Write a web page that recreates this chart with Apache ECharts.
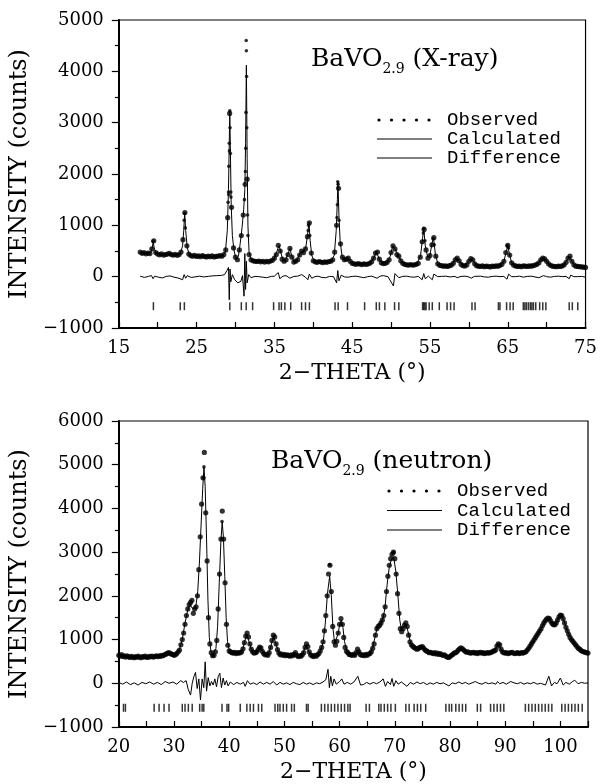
<!DOCTYPE html>
<html>
<head>
<meta charset="utf-8">
<title>BaVO2.9 Rietveld profiles</title>
<script src="https://cdn.jsdelivr.net/npm/echarts@6/dist/echarts.min.js"></script>
<style>
  html, body { margin: 0; padding: 0; background: #fff; }
  #chart { width: 600px; height: 784px; }
</style>
</head>
<body>
<div id="chart"></div>
<script>
// ---------- X-ray pattern (upper panel) ----------
// observed counts on a regular 2-theta grid
const xrayStart = 17.75;
const xrayStep = 0.25;
const xrayObs = [
  480,
  455, 470, 445, 460,   // 18
  450, 540, 700, 470,   // 19
  440, 425, 445, 420,   // 20
  430, 440, 455, 430,   // 21
  420, 435, 415, 430,   // 22
  480, 720, 1250, 600,  // 23
  440, 410, 400, 415,   // 24
  395, 405, 390, 410,   // 25
  395, 385, 400, 390,   // 26
  405, 385, 395, 400,   // 27
  410, 400, 430, 520,   // 28
  1150, 3180, 1350, 560,// 29
  380, 330, 520, 800,   // 30
  1200, 1800, 1900, 430,// 31
  330, 310, 300, 295,   // 32
  305, 290, 300, 285,   // 33
  300, 290, 305, 320,   // 34
  360, 430, 610, 500,   // 35
  340, 300, 330, 430,   // 36
  550, 380, 285, 300,   // 37
  330, 420, 500, 470,   // 38
  540, 780, 1050, 460,  // 39
  310, 290, 280, 295,   // 40
  285, 275, 290, 280,   // 41
  295, 300, 330, 480,   // 42
  1000, 1720, 640, 380, // 43
  330, 340, 360, 300,   // 44
  260, 250, 240, 255,   // 45
  245, 235, 250, 240,   // 46
  245, 260, 290, 360,   // 47
  460, 480, 340, 270,   // 48
  255, 260, 280, 330,   // 49
  470, 600, 540, 430,   // 50
  400, 310, 260, 240,   // 51
  230, 225, 235, 225,   // 52
  230, 240, 260, 380,   // 53
  680, 920, 520, 360,   // 54
  410, 620, 760, 400,   // 55
  250, 220, 215, 205,   // 56
  210, 200, 215, 225,   // 57
  260, 330, 360, 310,   // 58
  240, 215, 210, 230,   // 59
  300, 350, 330, 250,   // 60
  215, 205, 200, 210,   // 61
  195, 205, 200, 190,   // 62
  205, 200, 210, 205,   // 63
  220, 240, 300, 470,   // 64
  610, 420, 270, 225,   // 65
  210, 200, 205, 195,   // 66
  210, 205, 200, 210,   // 67
  205, 215, 225, 240,   // 68
  270, 330, 360, 345,   // 69
  300, 250, 220, 205,   // 70
  200, 195, 205, 200,   // 71
  210, 230, 280, 360,   // 72
  400, 300, 230, 205,   // 73
  200, 195, 190, 185,   // 74
  180                   // 75
];
// extra observed points recorded across the sharp reflections
const xrayObsPeaks = [
  [19.40, 690],
  [23.40, 1100], [23.45, 1230], [23.55, 950],
  [29.05, 1450], [29.10, 1650], [29.13, 1600], [29.15, 2150], [29.20, 2600], [29.22, 2450],
  [29.27, 3230], [29.30, 2900], [29.35, 2400], [29.40, 1650], [29.42, 1550],
  [31.15, 1500], [31.28, 2050], [31.32, 2500], [31.35, 3200], [31.38, 4600],
  [31.40, 4400], [31.43, 3900], [31.45, 2900], [31.55, 1200], [31.60, 800],
  [39.35, 900], [39.40, 1000], [39.55, 800],
  [43.05, 1150], [43.10, 1400], [43.15, 1850], [43.20, 1800], [43.30, 1100],
  [54.15, 850], [54.20, 940], [54.35, 700],
  [55.40, 740], [55.55, 620],
  [64.95, 600], [65.10, 560]
];
// calculated profile
const xrayCalc = [
  [17.75,460],[18.5,455],[19.1,460],[19.3,560],[19.42,690],[19.55,560],[19.8,445],[20.5,435],
  [22,430],[22.9,440],[23.2,600],[23.35,900],[23.47,1240],[23.6,900],[23.8,560],[24.1,420],
  [25,400],[27,395],[28.3,405],[28.7,480],[28.95,900],[29.1,1700],[29.2,2600],[29.27,3230],
  [29.35,2400],[29.45,1400],[29.6,800],[29.8,520],[30.0,390],[30.2,340],[30.4,420],[30.6,640],
  [30.85,960],[31.05,1300],[31.2,1700],[31.3,2600],[31.4,4120],[31.5,2300],[31.6,1000],
  [31.75,470],[32.0,340],[33,300],[34.5,300],[35.0,360],[35.3,480],[35.6,610],[35.85,460],
  [36.1,320],[36.4,320],[36.8,460],[37.0,550],[37.2,420],[37.5,295],[37.9,320],[38.4,490],
  [38.7,470],[39.05,580],[39.25,800],[39.45,1060],[39.6,700],[39.8,420],[40.1,300],[42.3,300],
  [42.7,420],[42.95,900],[43.1,1500],[43.17,1850],[43.3,1200],[43.45,700],[43.7,400],[44.0,330],
  [44.4,360],[44.8,290],[45.2,250],[47.2,255],[47.7,340],[48.1,480],[48.5,340],[48.9,260],
  [49.5,280],[49.9,400],[50.2,600],[50.5,540],[50.9,420],[51.3,300],[51.8,240],[53.3,240],
  [53.8,420],[54.05,750],[54.2,930],[54.4,600],[54.7,380],[55.0,420],[55.25,640],[55.45,770],
  [55.7,430],[56.0,260],[56.4,215],[57.7,220],[58.2,320],[58.5,360],[58.9,270],[59.4,210],
  [59.9,280],[60.3,350],[60.6,300],[61.0,215],[64.0,215],[64.5,300],[64.8,480],[65.0,615],
  [65.2,450],[65.5,270],[65.9,215],[68.5,225],[69.0,270],[69.5,360],[69.9,320],[70.4,230],
  [71.0,200],[72.2,225],[72.6,310],[72.95,400],[73.3,280],[73.7,205],[75,182]
];
// observed minus calculated
const xrayDiff = [
  [17.75,10],[18.3,-15],[18.8,5],[19.2,20],[19.4,-40],[19.6,10],[20.1,-10],[20.6,-25],[21.1,5],
  [21.6,15],[22.1,-10],[22.6,-25],[23.2,-60],[23.4,40],[23.6,-30],[23.8,20],[24.3,-15],
  [24.8,-5],[25.4,10],[25.9,-5],[26.5,5],[27.0,15],[27.6,20],[28.2,25],[28.6,40],[28.9,120],
  [29.1,180],[29.2,-450],[29.3,150],[29.4,-100],[29.6,40],[29.9,-60],[30.3,-120],[30.7,-90],
  [30.9,20],[31.1,-380],[31.2,450],[31.3,-250],[31.4,300],[31.5,-120],[31.7,40],[32.0,-20],
  [32.5,5],[33.0,0],[33.5,-10],[34.0,-20],[34.6,5],[35.0,10],[35.5,80],[35.7,-40],[36.1,10],
  [36.5,20],[37.0,-30],[37.5,5],[38.0,10],[38.5,40],[39.0,-10],[39.3,-60],[39.5,50],[39.8,-30],
  [40.2,0],[40.6,10],[41.1,-15],[41.6,-20],[42.1,5],[42.6,0],[43.0,-120],[43.15,120],[43.3,-80],
  [43.6,30],[44.0,-5],[44.5,-10],[45.0,5],[45.5,10],[46.0,-5],[46.5,-20],[47.0,0],[47.5,10],
  [48.2,-30],[48.6,10],[49.0,20],[49.6,0],[50.3,-180],[50.5,60],[51.0,-20],[51.5,5],[52.0,10],
  [52.5,-5],[53.0,-10],[53.5,5],[54.0,-60],[54.2,60],[54.4,-40],[54.8,10],[55.3,-60],[55.5,50],
  [56.0,0],[56.5,5],[57.0,10],[57.6,-5],[58.2,5],[58.5,-20],[59.0,5],[59.5,10],[60.0,-5],
  [60.3,-30],[60.7,5],[61.5,10],[62.0,-5],[62.5,-10],[63.0,5],[63.5,10],[64.0,0],[64.5,5],
  [64.9,-50],[65.1,50],[65.5,0],[66.0,0],[66.5,10],[67.0,-10],[67.5,5],[68.0,10],[68.5,-5],
  [69.0,-20],[69.6,20],[70.0,0],[70.5,-10],[71.0,5],[71.5,10],[72.0,0],[72.5,5],[72.9,-40],
  [73.1,30],[73.5,0],[74.0,0],[74.5,5],[75,-10]
];
// calculated reflection positions
const xrayRefl = [
  19.45, 22.9, 23.43, 29.27, 30.75, 31.38, 32.2,
  34.9, 35.6, 35.9, 36.35, 37.1, 38.5, 39.0, 39.5,
  42.8, 43.2, 44.4, 46.6, 48.1, 48.5, 49.2, 50.45, 51.0,
  54.05, 54.2, 54.35, 54.5, 54.9, 55.3, 56.2, 57.2, 57.65, 58.1,
  60.4, 60.8, 63.8, 64.0, 64.85, 65.3, 65.7,
  67.0, 67.2, 67.4, 67.65, 67.9, 68.1, 68.3, 68.6, 69.1, 69.5, 69.9,
  72.9, 73.3, 74.0
];

// ---------- neutron pattern (lower panel) ----------
const neutStart = 20;
const neutStep = 0.25;
const neutObs = [
  640, 620, 655, 610,     // 20
  630, 600, 625, 610,     // 21
  590, 615, 600, 585,     // 22
  610, 595, 620, 600,     // 23
  585, 610, 600, 620,     // 24
  600, 590, 615, 605,     // 25
  620, 600, 610, 625,     // 26
  610, 630, 615, 640,     // 27
  630, 650, 665, 680,     // 28
  700, 690, 670, 660,     // 29
  640, 655, 680, 720,     // 30
  760, 880, 1000, 1150,   // 31
  1350, 1550, 1700, 1800, // 32
  1850, 1900, 1600, 1700, // 33
  1750, 2000, 2600, 3350, // 34
  4100, 4700, 5280, 3900, // 35
  2800, 1500, 900, 700,   // 36
  630, 640, 720, 980,     // 37
  1700, 2500, 3300, 3940, // 38
  3300, 2300, 1350, 870,  // 39
  740, 720, 700, 690,     // 40
  710, 680, 700, 690,     // 41
  700, 720, 790, 930,     // 42
  1080, 1150, 1060, 900,  // 43
  780, 720, 690, 700,     // 44
  720, 770, 830, 810,     // 45
  730, 680, 650, 660,     // 46
  640, 700, 820, 980,     // 47
  1100, 1060, 900, 770,   // 48
  690, 650, 670, 640,     // 49
  660, 630, 650, 640,     // 50
  620, 650, 630, 660,     // 51
  700, 640, 610, 630,     // 52
  620, 650, 700, 820,     // 53
  900, 840, 720, 650,     // 54
  630, 610, 640, 620,     // 55
  650, 680, 740, 820,     // 56
  950, 1200, 1550, 2000,  // 57
  2500, 2700, 2100, 1300, // 58
  950, 870, 960, 1150,    // 59
  1350, 1480, 1350, 1050, // 60
  820, 730, 700, 660,     // 61
  650, 640, 660, 640,     // 62
  700, 780, 720, 660,     // 63
  640, 650, 630, 660,     // 64
  640, 670, 680, 720,     // 65
  800, 900, 1100, 1250,   // 66
  1300, 1330, 1380, 1450, // 67
  1550, 1750, 2100, 2450, // 68
  2700, 2850, 2950, 3000, // 69
  2850, 2500, 2050, 1600, // 70
  1250, 1180, 1250, 1330, // 71
  1380, 1300, 1100, 950,  // 72
  880, 850, 820, 800,     // 73
  780, 790, 820, 830,     // 74
  840, 800, 760, 740,     // 75
  720, 700, 710, 690,     // 76
  680, 700, 670, 690,     // 77
  660, 680, 650, 640,     // 78
  650, 620, 600, 590,     // 79
  610, 640, 660, 690,     // 80
  700, 720, 760, 790,     // 81
  810, 790, 760, 730,     // 82
  710, 720, 700, 690,     // 83
  700, 710, 690, 700,     // 84
  680, 700, 710, 690,     // 85
  700, 680, 690, 700,     // 86
  690, 700, 710, 730,     // 87
  740, 760, 850, 900,     // 88
  880, 780, 720, 700,     // 89
  690, 700, 680, 690,     // 90
  700, 710, 690, 680,     // 91
  690, 700, 680, 690,     // 92
  700, 690, 710, 720,     // 93
  760, 800, 850, 900,     // 94
  950, 1000, 1050, 1100,  // 95
  1150, 1200, 1250, 1320, // 96
  1380, 1430, 1470, 1490, // 97
  1480, 1420, 1370, 1340, // 98
  1340, 1380, 1450, 1520, // 99
  1560, 1550, 1480, 1380, // 100
  1280, 1200, 1120, 1050, // 101
  1000, 960, 920, 880,    // 102
  840, 800, 780, 750,     // 103
  730, 720, 710, 700,     // 104
  690                     // 105
];
const neutObsPeaks = [
  [35.43, 4950], [35.38, 4700], [58.2, 2714], [69.8, 3000], [38.7, 3700]
];
const neutCalc = [
  [20,620],[22,610],[24,605],[26,612],[27.5,630],[28.5,670],[29.3,680],[30.2,660],[30.7,720],
  [31.0,780],[31.5,1000],[32.0,1380],[32.5,1680],[32.9,1800],[33.3,1720],[33.7,1700],[34.0,1800],
  [34.3,2100],[34.6,2750],[34.9,3600],[35.2,4450],[35.43,4950],[35.65,4500],[35.9,3300],
  [36.15,1900],[36.4,1050],[36.7,720],[37.0,640],[37.3,660],[37.6,800],[37.9,1300],[38.2,2300],
  [38.5,3250],[38.73,3690],[38.95,3350],[39.2,2450],[39.45,1500],[39.7,950],[40.0,760],
  [40.5,710],[42.0,710],[42.5,790],[42.8,960],[43.2,1120],[43.6,950],[44.0,780],[44.5,710],
  [45.1,740],[45.6,820],[46.0,730],[46.6,660],[47.2,700],[47.6,870],[48.05,1080],[48.5,880],
  [49.0,700],[50.5,650],[52.5,640],[53.4,690],[53.9,880],[54.1,880],[54.6,680],[55.3,630],
  [56.0,660],[56.6,760],[57.0,920],[57.4,1350],[57.8,2050],[58.2,2450],[58.5,2000],[58.8,1250],
  [59.1,920],[59.3,900],[59.7,1120],[60.0,1330],[60.3,1450],[60.6,1280],[60.9,950],[61.3,740],
  [62,660],[63.0,680],[63.35,760],[63.8,670],[65.0,660],[65.5,700],[66.0,820],[66.4,1050],
  [66.8,1260],[67.3,1340],[67.8,1460],[68.2,1700],[68.6,2250],[69.0,2650],[69.4,2850],
  [69.8,2880],[70.2,2550],[70.6,1950],[70.9,1450],[71.2,1220],[71.6,1300],[72.0,1360],
  [72.4,1180],[72.8,950],[73.3,840],[74.0,790],[74.8,830],[75.3,800],[76,720],[78,670],
  [79.8,610],[80.5,670],[81.5,760],[82.0,800],[82.6,740],[84,700],[87.5,710],[88.2,780],
  [88.85,900],[89.3,760],[89.8,700],[93.5,710],[94.5,850],[95.5,1050],[96.5,1250],[97.3,1430],
  [97.95,1480],[98.5,1380],[99.05,1340],[99.6,1480],[100.1,1560],[100.6,1450],[101.2,1220],
  [102.0,1000],[103.0,840],[104,730],[105,690]
];
const neutDiff = [
  [20,20],[20.7,-20],[21.4,30],[22.1,-30],[22.8,10],[23.5,-40],[24.2,20],[24.9,-10],[25.6,30],
  [26.3,-20],[27,20],[27.7,-30],[28.4,40],[29.1,0],[29.8,30],[30.5,-20],[31.2,60],[31.7,20],
  [32.2,60],[32.6,-150],[33.0,-270],[33.3,0],[33.6,150],[33.9,250],[34.2,-120],[34.5,100],
  [34.8,-380],[35.1,100],[35.4,-100],[35.65,490],[35.9,-180],[36.2,130],[36.5,-60],[36.8,40],
  [37.1,-40],[37.4,100],[37.7,-80],[38.0,150],[38.3,230],[38.6,-100],[38.9,120],[39.2,-40],
  [39.5,60],[39.8,-60],[40.2,30],[40.8,-30],[41.4,20],[42.0,-20],[42.6,20],[42.9,-70],[43.3,60],
  [43.8,-20],[44.4,10],[45.0,-30],[45.6,30],[46.2,-20],[46.8,20],[47.4,-20],[48.0,40],[48.6,-40],
  [49.2,20],[49.8,-20],[50.4,10],[51.0,-30],[51.6,20],[52.2,-10],[52.8,-30],[53.4,20],[54.0,-20],
  [54.6,10],[55.2,-30],[55.8,10],[56.4,-10],[57.0,30],[57.5,80],[57.9,320],[58.15,-100],
  [58.4,160],[58.7,-60],[59.0,100],[59.4,-20],[60.0,40],[60.4,100],[60.8,-20],[61.4,20],
  [62.0,-20],[62.6,30],[63.3,160],[63.8,-40],[64.3,-30],[64.9,20],[65.5,-20],[66.1,20],
  [66.7,-10],[67.3,30],[67.9,100],[68.3,-70],[68.7,40],[69.2,-30],[69.5,110],[69.8,-70],
  [70.2,60],[70.6,-20],[71.2,30],[72.2,-70],[72.8,20],[73.4,-20],[74.0,30],[74.6,-10],[75.2,20],
  [75.8,-30],[76.4,10],[77.0,-20],[77.6,20],[78.2,-10],[78.8,10],[79.8,-60],[80.4,10],[81.0,-10],
  [81.6,30],[82.2,-10],[82.8,20],[83.4,-20],[84.0,10],[84.6,40],[85.2,0],[85.8,-20],[86.4,20],
  [87.0,-10],[87.6,10],[88.3,-20],[88.6,40],[89.0,-10],[89.6,20],[90.2,-20],[91.0,40],[91.6,10],
  [92.2,-10],[92.8,20],[93.4,-20],[94.0,10],[94.6,-10],[95.2,20],[95.8,-20],[96.4,0],[97.3,-40],
  [97.9,160],[98.4,-60],[98.9,20],[99.4,-10],[100.0,120],[100.5,-40],[101.0,20],[101.6,-20],
  [102.2,40],[102.6,70],[103.2,-10],[103.8,20],[104.4,0],[105,10]
];
const neutRefl = [
  20.85, 21.2, 26.4, 27.3, 28.2, 29.1, 31.5, 32.0, 32.6, 33.3, 34.65, 35.1, 35.4,
  38.7, 39.6, 39.9, 42.0, 43.2, 43.8, 44.4, 45.3, 45.9,
  48.3, 48.8, 49.2, 49.8, 50.4, 51.3, 51.8, 54.0, 54.3, 56.7, 57.3, 57.9, 58.5,
  59.1, 59.7, 60.3, 60.9, 61.5, 61.9, 64.8, 65.4,
  67.1, 67.5, 68.1, 68.7, 69.3, 70.1, 72.0, 72.6, 73.5, 74.1, 74.7, 75.6,
  79.25, 79.85, 80.3, 81.05, 81.65, 82.25, 82.85, 84.95, 85.55,
  87.35, 87.95, 88.55, 89.15, 89.75,
  93.65, 94.25, 94.85, 95.45, 96.05, 96.65, 97.25, 97.85, 98.45,
  100.25, 100.85, 101.45, 102.05, 102.65, 103.25, 103.95
];
const xrayReflLevel = -575;
const neutReflLevel = -560;

const legendLabels = ['Observed', 'Calculated', 'Difference'];
const panelTitles = [
  ['BaVO', '2.9', ' (X-ray)'],
  ['BaVO', '2.9', ' (neutron)']
];

// ---------- styling ----------
const SERIF = "'DejaVu Serif', 'Liberation Serif', serif";
const MONO = "'Liberation Mono', 'DejaVu Sans Mono', monospace";
const INK = '#000';

function gridded(start, step, values) {
  return values.map((v, i) => [+(start + i * step).toFixed(2), v]);
}

function xAxisFor(gridIndex, min, max, firstLabel) {
  return {
    type: 'value', gridIndex, min, max, interval: 5,
    axisLine: { onZero: false, lineStyle: { color: INK, width: 2 } },
    axisTick: { inside: true, length: 6, lineStyle: { color: INK, width: 1.2 } },
    axisLabel: {
      color: INK, fontFamily: SERIF, fontSize: 18, margin: 11,
      formatter: v => ((v - firstLabel) % 10 === 0 ? String(v) : '')
    },
    splitLine: { show: false },
    name: '2\u2212THETA (\u00B0)', nameLocation: 'middle', nameGap: 34,
    nameTextStyle: { color: INK, fontFamily: SERIF, fontSize: 22 }
  };
}

function yAxisFor(gridIndex, max) {
  return {
    type: 'value', gridIndex, min: -1000, max, interval: 1000,
    axisLine: { onZero: false, lineStyle: { color: INK, width: 2 } },
    axisTick: { inside: false, length: 7, lineStyle: { color: INK, width: 1.2 } },
    minorTick: { show: true, splitNumber: 2, length: 4, lineStyle: { color: INK, width: 1.2 } },
    axisLabel: {
      color: INK, fontFamily: SERIF, fontSize: 18, margin: 15,
      formatter: v => (v < 0 ? '\u2212' + Math.abs(v) : String(v))
    },
    splitLine: { show: false },
    name: 'INTENSITY (counts)', nameLocation: 'middle', nameGap: 65,
    nameTextStyle: { color: INK, fontFamily: SERIF, fontSize: 24 }
  };
}

function panelSeries(idx, obs, obsPeaks, calc, diff, refl, reflLevel) {
  const axes = { xAxisIndex: idx, yAxisIndex: idx };
  return [
    Object.assign({ type: 'line', name: 'Calculated', data: calc, showSymbol: false,
      lineStyle: { color: INK, width: 1 }, z: 2 }, axes),
    Object.assign({ type: 'scatter', name: 'Observed', data: obs, symbol: 'circle', symbolSize: 5.2,
      itemStyle: { color: INK }, z: 3 }, axes),
    Object.assign({ type: 'scatter', name: 'Observed', data: obsPeaks, symbol: 'circle', symbolSize: 3.6,
      itemStyle: { color: INK }, z: 3 }, axes),
    Object.assign({ type: 'line', name: 'Difference', data: diff, showSymbol: false,
      lineStyle: { color: INK, width: 1 }, z: 2 }, axes),
    Object.assign({ type: 'scatter', name: 'Reflections', data: refl.map(t => [t, reflLevel]),
      symbol: 'rect', symbolSize: [1.5, 8], itemStyle: { color: INK }, z: 2 }, axes)
  ];
}

function legendGraphics(dotX0, textX, y0, dy) {
  const els = [];
  for (let k = 0; k < 5; k++) {
    els.push({ type: 'circle', shape: { cx: dotX0 + 2 + k * 12.5, cy: y0, r: 1.6 },
      style: { fill: INK } });
  }
  els.push({ type: 'line', shape: { x1: dotX0, y1: y0 + dy, x2: dotX0 + 55, y2: y0 + dy },
    style: { stroke: INK, lineWidth: 1.2 } });
  els.push({ type: 'line', shape: { x1: dotX0, y1: y0 + 2 * dy, x2: dotX0 + 55, y2: y0 + 2 * dy },
    style: { stroke: INK, lineWidth: 1.2 } });
  legendLabels.forEach((t, k) => {
    els.push({ type: 'text', x: textX, y: y0 + k * dy,
      style: { text: t, fill: INK, font: '19px ' + MONO, textVerticalAlign: 'middle', textAlign: 'left' } });
  });
  return els;
}

function titleFor(parts, left, top) {
  return {
    text: '{n|' + parts[0] + '}{s|' + parts[1] + '}{n|' + parts[2] + '}',
    left, top,
    textStyle: {
      fontWeight: 'normal',
      rich: {
        n: { fontFamily: SERIF, fontSize: 25, fontWeight: 'normal', color: INK, lineHeight: 28, verticalAlign: 'top' },
        s: { fontFamily: SERIF, fontSize: 14, fontWeight: 'normal', color: INK, lineHeight: 14, verticalAlign: 'top', padding: [15, 0, 0, 0] }
      }
    }
  };
}

const chart = echarts.init(document.getElementById('chart'), null, { renderer: 'canvas' });
chart.setOption({
  animation: false,
  backgroundColor: '#fff',
  title: [titleFor(panelTitles[0], 306, 42), titleFor(panelTitles[1], 266, 444)],
  grid: [
    { left: 116, top: 20, width: 471, height: 308, show: true, borderColor: INK, borderWidth: 1.2 },
    { left: 116, top: 421, width: 472, height: 313, show: true, borderColor: INK, borderWidth: 1.2 }
  ],
  xAxis: [xAxisFor(0, 15, 75, 15), xAxisFor(1, 20, 105, 20)],
  yAxis: [yAxisFor(0, 5000), yAxisFor(1, 6000)],
  series: [
    ...panelSeries(0, gridded(xrayStart, xrayStep, xrayObs), xrayObsPeaks, xrayCalc, xrayDiff, xrayRefl, xrayReflLevel),
    ...panelSeries(1, gridded(neutStart, neutStep, neutObs), neutObsPeaks, neutCalc, neutDiff, neutRefl, neutReflLevel)
  ],
  graphic: [
    ...legendGraphics(377, 447, 120, 19),
    ...legendGraphics(387, 457, 491, 19.5)
  ]
});
</script>
</body>
</html>
